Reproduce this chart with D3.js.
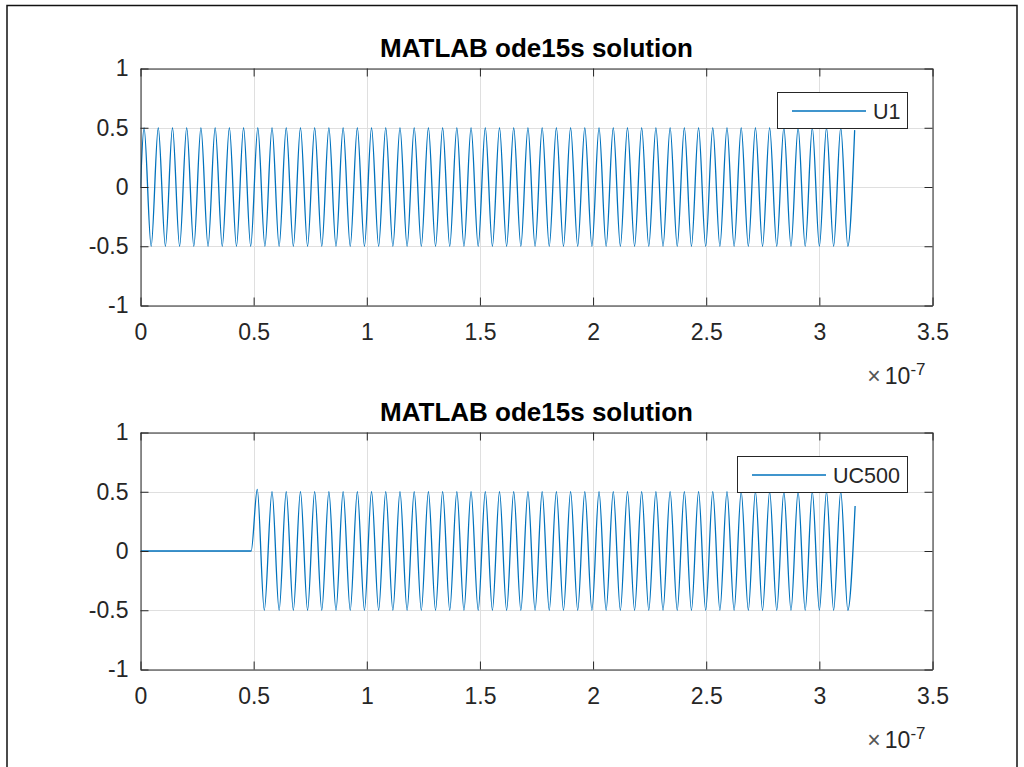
<!DOCTYPE html>
<html><head><meta charset="utf-8">
<script src="https://cdn.jsdelivr.net/npm/d3@7"></script>
<style>
html,body{margin:0;padding:0;background:#fff;}
svg{display:block;font-family:"Liberation Sans",Arial,Helvetica,sans-serif;}
</style></head>
<body>
<script>
// ---- data (time in units of 1e-7 s) ----
const xTicks = [0, 0.5, 1, 1.5, 2, 2.5, 3, 3.5];
const xTickLabels = ["0", "0.5", "1", "1.5", "2", "2.5", "3", "3.5"];
const yTicks = [-1, -0.5, 0, 0.5, 1];
const yTickLabels = ["-1", "-0.5", "0", "0.5", "1"];
const titles = ["MATLAB ode15s solution", "MATLAB ode15s solution"];
const seriesNames = ["U1", "UC500"];

// U1: start, peak times, trough times, levels, end
const u1Start = [[0, 0]];
const u1PeakTimes = [0.0157, 0.0785, 0.1414, 0.2042, 0.2670, 0.3299, 0.3927, 0.4555, 0.5184, 0.5812,
  0.6440, 0.7069, 0.7697, 0.8325, 0.8954, 0.9582, 1.0210, 1.0838, 1.1467, 1.2095,
  1.2723, 1.3352, 1.3980, 1.4608, 1.5237, 1.5865, 1.6493, 1.7122, 1.7750, 1.8378,
  1.9007, 1.9635, 2.0263, 2.0892, 2.1520, 2.2148, 2.2777, 2.3405, 2.4033, 2.4662,
  2.5290, 2.5918, 2.6546, 2.7175, 2.7803, 2.8431, 2.9060, 2.9688, 3.0316, 3.0945];
const u1TroughTimes = [0.0471, 0.1100, 0.1728, 0.2356, 0.2985, 0.3613, 0.4241, 0.4869, 0.5498, 0.6126,
  0.6754, 0.7383, 0.8011, 0.8639, 0.9268, 0.9896, 1.0524, 1.1153, 1.1781, 1.2409,
  1.3038, 1.3666, 1.4294, 1.4923, 1.5551, 1.6179, 1.6808, 1.7436, 1.8064, 1.8692,
  1.9321, 1.9949, 2.0577, 2.1206, 2.1834, 2.2462, 2.3091, 2.3719, 2.4347, 2.4976,
  2.5604, 2.6232, 2.6861, 2.7489, 2.8117, 2.8746, 2.9374, 3.0002, 3.0631, 3.1259];
const u1Levels = [0.5, -0.5];
const u1End = [[3.156, 0.48]];

// UC500: flat until the wave arrives, then same oscillation
const ucStart = [[0, 0], [0.489, 0], [0.516, 0.52]];
const ucPeakTimes = [0.5812,
  0.6440, 0.7069, 0.7697, 0.8325, 0.8954, 0.9582, 1.0210, 1.0838, 1.1467, 1.2095,
  1.2723, 1.3352, 1.3980, 1.4608, 1.5237, 1.5865, 1.6493, 1.7122, 1.7750, 1.8378,
  1.9007, 1.9635, 2.0263, 2.0892, 2.1520, 2.2148, 2.2777, 2.3405, 2.4033, 2.4662,
  2.5290, 2.5918, 2.6546, 2.7175, 2.7803, 2.8431, 2.9060, 2.9688, 3.0316, 3.0945];
const ucTroughTimes = [0.5470, 0.6126,
  0.6754, 0.7383, 0.8011, 0.8639, 0.9268, 0.9896, 1.0524, 1.1153, 1.1781, 1.2409,
  1.3038, 1.3666, 1.4294, 1.4923, 1.5551, 1.6179, 1.6808, 1.7436, 1.8064, 1.8692,
  1.9321, 1.9949, 2.0577, 2.1206, 2.1834, 2.2462, 2.3091, 2.3719, 2.4347, 2.4976,
  2.5604, 2.6232, 2.6861, 2.7489, 2.8117, 2.8746, 2.9374, 3.0002, 3.0631, 3.1259];
const ucLevels = [0.5, -0.5];
const ucEnd = [[3.158, 0.38]];

function buildSeries(start, peaks, troughs, levels, end) {
  const pts = start.concat(peaks.map(t => [t, levels[0]]), troughs.map(t => [t, levels[1]]));
  pts.sort((a, b) => a[0] - b[0]);
  return pts.concat(end);
}
const seriesData = [
  buildSeries(u1Start, u1PeakTimes, u1TroughTimes, u1Levels, u1End),
  buildSeries(ucStart, ucPeakTimes, ucTroughTimes, ucLevels, ucEnd)
];

// ---- layout ----
const W = 1024, H = 767;
const axL = 140.5, axR = 932.5;
const panels = [{top: 68.5, bottom: 305.5}, {top: 432.5, bottom: 669.5}];
const legends = [{x: 777, y: 92, w: 130, h: 36}, {x: 737, y: 456, w: 170, h: 36}];
const ink = "#262626", gridCol = "#dfdfdf", lineCol = "#0072BD";

const svg = d3.select("body").append("svg").attr("width", W).attr("height", H);
svg.append("rect").attr("width", W).attr("height", H).attr("fill", "#fff");
// figure frame
svg.append("rect").attr("x", 7).attr("y", 5.5).attr("width", 1010).attr("height", 800)
  .attr("fill", "none").attr("stroke", "#111").attr("stroke-width", 1.5);

const x = d3.scaleLinear().domain([0, 3.5]).range([axL, axR]);

panels.forEach((p, i) => {
  const y = d3.scaleLinear().domain([-1, 1]).range([p.bottom, p.top]);
  const g = svg.append("g");
  // grid
  g.selectAll(".gx").data(xTicks).join("line")
    .attr("x1", d => Math.round(x(d)) + 0.5).attr("x2", d => Math.round(x(d)) + 0.5)
    .attr("y1", p.top).attr("y2", p.bottom).attr("stroke", gridCol).attr("stroke-width", 1);
  g.selectAll(".gy").data(yTicks).join("line")
    .attr("y1", d => Math.round(y(d)) + 0.5).attr("y2", d => Math.round(y(d)) + 0.5)
    .attr("x1", axL).attr("x2", axR).attr("stroke", gridCol).attr("stroke-width", 1);

  // clip
  const cid = "clip" + i;
  svg.append("clipPath").attr("id", cid).append("rect")
    .attr("x", axL).attr("y", p.top).attr("width", axR - axL).attr("height", p.bottom - p.top);
  // line
  const line = d3.line().x(d => x(d[0])).y(d => y(d[1])).curve(d3.curveMonotoneX);
  g.append("path").datum(seriesData[i]).attr("d", line)
    .attr("fill", "none").attr("stroke", lineCol).attr("stroke-width", 1.3)
    .attr("clip-path", `url(#${cid})`);

  // axes with inward ticks on all sides
  const mk = (gen, tr) => g.append("g").attr("transform", tr).call(gen)
    .call(s => s.select(".domain").attr("stroke", ink))
    .call(s => s.selectAll(".tick line").attr("stroke", ink));
  const xb = d3.axisBottom(x).tickValues(xTicks).tickSize(-8).tickPadding(18)
    .tickFormat((d, k) => xTickLabels[k]).tickSizeOuter(0);
  const xt = d3.axisTop(x).tickValues(xTicks).tickSize(-8).tickFormat("").tickSizeOuter(0);
  const yl = d3.axisLeft(y).tickValues(yTicks).tickSize(-8).tickPadding(12)
    .tickFormat((d, k) => yTickLabels[k]).tickSizeOuter(0);
  const yr = d3.axisRight(y).tickValues(yTicks).tickSize(-8).tickFormat("").tickSizeOuter(0);
  const gxb = mk(xb, `translate(0,${p.bottom})`);
  mk(xt, `translate(0,${p.top})`);
  const gyl = mk(yl, `translate(${axL},0)`);
  mk(yr, `translate(${axR},0)`);
  [gxb, gyl].forEach(a => a.selectAll("text").attr("fill", ink)
    .style("font-size", "23px").style("font-family", '"Liberation Sans",Arial,sans-serif'));

  // exponent label
  const ex = g.append("text").attr("x", axR - 7).attr("y", p.bottom + 78)
    .attr("text-anchor", "end").attr("fill", ink)
    .style("font-size", "23px");
  ex.append("tspan").text("\u00d7").attr("fill", "#555");
  ex.append("tspan").text("10").attr("dx", 4);
  ex.append("tspan").text("-7").attr("dy", -9).style("font-size", "17px");

  // title
  svg.append("text").attr("x", (axL + axR) / 2).attr("y", p.top - 12)
    .attr("text-anchor", "middle").attr("fill", "#000")
    .style("font-size", "26px").style("font-weight", "bold").text(titles[i]);

  // legend
  const L = legends[i];
  const lg = svg.append("g");
  lg.append("rect").attr("x", L.x + 0.5).attr("y", L.y + 0.5).attr("width", L.w).attr("height", L.h)
    .attr("fill", "#fff").attr("stroke", ink).attr("stroke-width", 1);
  lg.append("line").attr("x1", L.x + 15).attr("x2", L.x + 89)
    .attr("y1", L.y + 19).attr("y2", L.y + 19).attr("stroke", lineCol).attr("stroke-width", 1.3);
  lg.append("text").attr("x", L.x + 96).attr("y", L.y + 27).attr("fill", ink)
    .style("font-size", "21.5px").text(seriesNames[i]);
});
</script>
</body></html>
